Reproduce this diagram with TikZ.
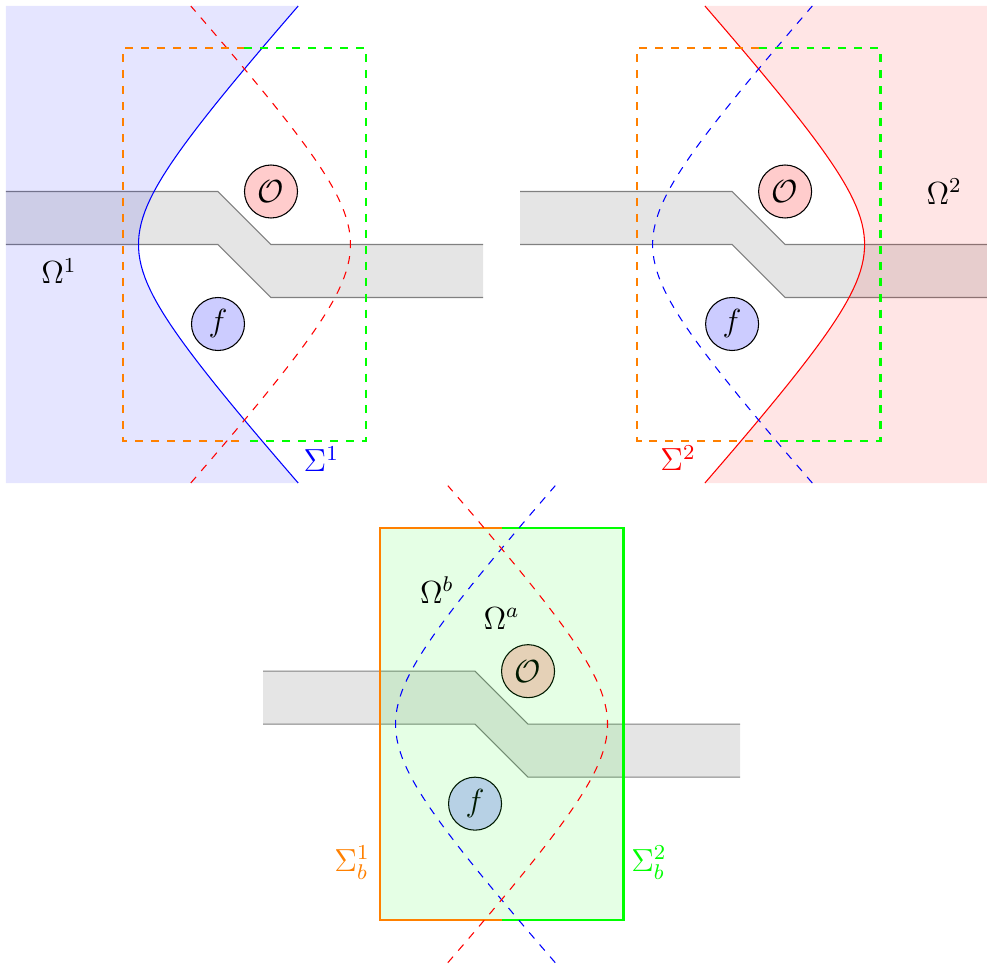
\documentclass[tikz,border=0pt]{standalone}
\usepackage{amsmath, amssymb}
\usetikzlibrary{positioning}
\tikzset{
    guide/.style={fill=gray!20},
    guideedge/.style={draw=gray},
    obstacle/.style={circle, draw, fill=red!20, minimum size=0.7cm, inner sep=0pt, font=\large},
    source/.style={circle, draw, fill=blue!20, minimum size=0.7cm, inner sep=0pt, font=\large},
    domlabel/.style={font=\large},
    hyp/.style={variable=\t, samples=80},
    boxedge/.style={thick},
}
% branches of the two interfaces
\newcommand{\hypl}{-3.25+1.25*sqrt(1+(\t/1.38)^2)}
\newcommand{\hypr}{3.25-1.25*sqrt(1+(\t/1.38)^2)}
% bent waveguide
\newcommand{\guide}{%
    \fill[guide] (-4.5,1) -- (-0.5,1) -- (0.5,0) -- (4.5,0) -- (4.5,-1) -- (0.5,-1) -- (-0.5,0) -- (-4.5,0) -- cycle;
    \draw[guideedge] (-4.5,1) -- (-0.5,1) -- (0.5,0) -- (4.5,0);
    \draw[guideedge] (-4.5,0) -- (-0.5,0) -- (0.5,-1) -- (4.5,-1);
}
\begin{document}
\begin{tikzpicture}[x=0.7cm, y=0.7cm]
    \clip (-4.613,4.613) rectangle (14.009,-13.613);

    % Sottoproblema 1
    \begin{scope}
        \guide
        \node[obstacle] (O1) at (0.5,1) {$\mathcal{O}$};
        \node[source] (f1) at (-0.5,-1.5) {$f$};
        \fill[blue, fill opacity=0.1] (-4.5,4.5) -- plot[hyp, domain=4.5:-4.5] ({\hypl},\t) -- (-4.5,-4.5) -- cycle;
        \draw[blue, hyp, domain=-4.5:4.5] plot ({\hypl},\t);
        \draw[red, dashed, hyp, domain=-4.5:4.5] plot ({\hypr},\t);
        \draw[orange, dashed, boxedge] (0,3.7) -- (-2.3,3.7) -- (-2.3,-3.7) -- (0,-3.7);
        \draw[green, dashed, boxedge] (0,3.7) -- (2.3,3.7) -- (2.3,-3.7) -- (0,-3.7);
        \node[domlabel] (om1) at (-3.5,-0.5) {$\Omega^1$};
        \node[domlabel, blue] (sig1) at (1.45,-4.05) {$\Sigma^1$};
    \end{scope}

    % Sottoproblema 2
    \begin{scope}[shift={(9.7,0)}]
        \guide
        \node[obstacle] (O2) at (0.5,1) {$\mathcal{O}$};
        \node[source] (f2) at (-0.5,-1.5) {$f$};
        \fill[red, fill opacity=0.1] (4.5,4.5) -- plot[hyp, domain=4.5:-4.5] ({\hypr},\t) -- (4.5,-4.5) -- cycle;
        \draw[red, hyp, domain=-4.5:4.5] plot ({\hypr},\t);
        \draw[blue, dashed, hyp, domain=-4.5:4.5] plot ({\hypl},\t);
        \draw[orange, dashed, boxedge] (0,3.7) -- (-2.3,3.7) -- (-2.3,-3.7) -- (0,-3.7);
        \draw[green, dashed, boxedge] (0,3.7) -- (2.3,3.7) -- (2.3,-3.7) -- (0,-3.7);
        \node[domlabel] (om2) at (3.5,1) {$\Omega^2$};
        \node[domlabel, red] (sig2) at (-1.52,-4.03) {$\Sigma^2$};
    \end{scope}

    % Dominio limitato
    \begin{scope}[shift={(4.85,-9.05)}]
        \guide
        \node[obstacle] (O3) at (0.5,1) {$\mathcal{O}$};
        \node[source] (f3) at (-0.5,-1.5) {$f$};
        \fill[green, fill opacity=0.1] (-2.3,-3.7) rectangle (2.3,3.7);
        \draw[orange, boxedge] (0,3.7) -- (-2.3,3.7) -- (-2.3,-3.7) -- (0,-3.7);
        \draw[green, boxedge] (0,3.7) -- (2.3,3.7) -- (2.3,-3.7) -- (0,-3.7);
        \draw[blue, dashed, hyp, domain=-4.5:4.5] plot ({\hypl},\t);
        \draw[red, dashed, hyp, domain=-4.5:4.5] plot ({\hypr},\t);
        \node[domlabel] (omb) at (-1.22,2.53) {$\Omega^b$};
        \node[domlabel] (oma) at (0,2) {$\Omega^a$};
        \node[domlabel, orange] (sigb1) at (-2.82,-2.62) {$\Sigma_b^1$};
        \node[domlabel, green] (sigb2) at (2.78,-2.62) {$\Sigma_b^2$};
    \end{scope}
\end{tikzpicture}
\end{document}
